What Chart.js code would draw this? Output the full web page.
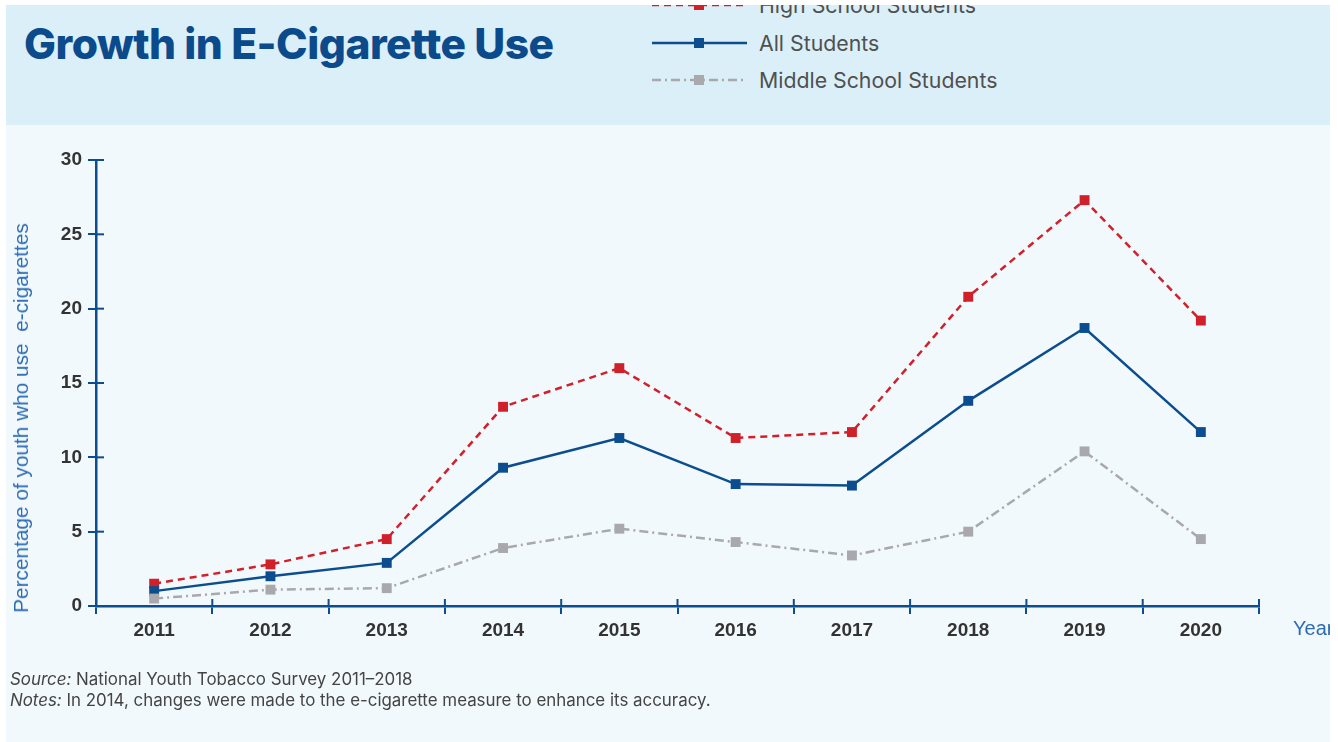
<!DOCTYPE html>
<html>
<head>
<meta charset="utf-8">
<script src="https://cdn.jsdelivr.net/npm/chart.js@4.4.1/dist/chart.umd.min.js"></script>
<style>
  html, body { margin: 0; padding: 0; background: #ffffff; }
  #page { position: relative; width: 1338px; height: 742px; overflow: hidden; clip-path: inset(5px 8px 0px 6px); background: #f2f9fd; }
  #header { position: absolute; left: 0; top: 0; width: 1338px; height: 125px; background: #daeff8; }
  #title { position: absolute; left: 24px; top: 21px; font-family: Inter, "Liberation Sans", sans-serif; font-weight: 800; font-size: 42.5px; line-height: 46px; color: #0b4a8b; letter-spacing: -0.5px; white-space: nowrap; }
  .leg { position: absolute; left: 652px; height: 20px; display: flex; align-items: center; }
  .leg svg { display: block; }
  .leg span { margin-left: 12px; font-family: Inter, "Liberation Sans", sans-serif; font-size: 21.3px; color: #505050; white-space: nowrap; }
  #chart { position: absolute; left: 0; top: 0; }
  #ytitle { position: absolute; left: 21px; top: 418px; transform: translate(-50%, -50%) rotate(-90deg); font-family: "Liberation Sans", sans-serif; font-size: 20.8px; color: #2d6cb3; white-space: pre; }
  #xtitle { position: absolute; left: 1293px; top: 617px; font-family: "Liberation Sans", sans-serif; font-size: 20px; color: #2d6cb3; white-space: nowrap; }
  .note { position: absolute; left: 10px; font-family: Inter, "Liberation Sans", sans-serif; font-size: 16.9px; line-height: 20px; color: #444444; white-space: nowrap; }
</style>
</head>
<body>
<div id="page">
  <div id="header"></div>
  <div id="title">Growth in E-Cigarette Use</div>
  <div class="leg" style="top:-5px">
    <svg width="95" height="20"><line x1="0" y1="10" x2="95" y2="10" stroke="#d0202a" stroke-width="2.5" stroke-dasharray="7,5"/><rect x="42" y="5" width="10" height="10" fill="#d0202a"/></svg>
    <span>High School Students</span>
  </div>
  <div class="leg" style="top:33px">
    <svg width="95" height="20"><line x1="0" y1="10" x2="95" y2="10" stroke="#0b4d8e" stroke-width="2.5"/><rect x="42" y="5" width="10" height="10" fill="#0b4d8e"/></svg>
    <span>All Students</span>
  </div>
  <div class="leg" style="top:70px">
    <svg width="95" height="20"><line x1="0" y1="10" x2="95" y2="10" stroke="#a9a9ad" stroke-width="2.5" stroke-dasharray="9,4,2,4"/><rect x="42" y="5" width="10" height="10" fill="#a9a9ad"/></svg>
    <span>Middle School Students</span>
  </div>
  <canvas id="chart" width="1338" height="742"></canvas>
  <div id="ytitle">Percentage of youth who use  e-cigarettes</div>
  <div id="xtitle">Year</div>
  <div class="note" style="top:669px"><i>Source:</i> National Youth Tobacco Survey 2011–2018</div>
  <div class="note" style="top:690px"><i>Notes:</i> In 2014, changes were made to the e-cigarette measure to enhance its accuracy.</div>
</div>
<script>
const years = ["2011","2012","2013","2014","2015","2016","2017","2018","2019","2020"];
const highSchool = [1.5, 2.8, 4.5, 13.4, 16.0, 11.3, 11.7, 20.8, 27.3, 19.2];
const allStudents = [1.0, 2.0, 2.9, 9.3, 11.3, 8.2, 8.1, 13.8, 18.7, 11.7];
const middleSchool = [0.5, 1.1, 1.2, 3.9, 5.2, 4.3, 3.4, 5.0, 10.4, 4.5];
const yTicks = [0, 5, 10, 15, 20, 25, 30];

const AXIS = '#0b4d8e';
const TICKFONT = { family: '"Liberation Sans", Arial, sans-serif', size: 19, weight: 'bold' };
const innerTicks = {
  id: 'innerTicks',
  afterDraw(chart) {
    const ctx = chart.ctx;
    const x = chart.scales.x, y = chart.scales.y;
    ctx.save();
    ctx.strokeStyle = AXIS;
    ctx.lineWidth = 2;
    y.ticks.forEach((t, i) => {
      const py = y.getPixelForTick(i);
      ctx.beginPath(); ctx.moveTo(y.right, py); ctx.lineTo(y.right + 8, py); ctx.stroke();
    });
    for (let i = 0; i <= years.length; i++) {
      const px = x.getPixelForValue(i - 0.5);
      ctx.beginPath(); ctx.moveTo(px, x.top); ctx.lineTo(px, x.top - 7); ctx.stroke();
    }
    ctx.restore();
  }
};

new Chart(document.getElementById('chart'), {
  type: 'line',
  data: {
    labels: years,
    datasets: [
      { label: 'High School Students', data: highSchool, borderColor: '#d0202a', backgroundColor: '#d0202a', borderWidth: 2.5, borderDash: [7,5], pointStyle: 'rect', pointRadius: 7, pointBorderWidth: 0, pointBackgroundColor: '#d0202a', tension: 0, order: 2 },
      { label: 'All Students', data: allStudents, borderColor: '#0b4d8e', backgroundColor: '#0b4d8e', borderWidth: 2.5, pointStyle: 'rect', pointRadius: 7, pointBorderWidth: 0, pointBackgroundColor: '#0b4d8e', tension: 0, order: 1 },
      { label: 'Middle School Students', data: middleSchool, borderColor: '#a9a9ad', backgroundColor: '#a9a9ad', borderWidth: 2.5, borderDash: [9,4,2,4], pointStyle: 'rect', pointRadius: 7, pointBorderWidth: 0, pointBackgroundColor: '#a9a9ad', tension: 0, order: 0 }
    ]
  },
  options: {
    responsive: false,
    animation: false,
    layout: { padding: { left: 0, right: 79, top: 160, bottom: 0 } },
    plugins: { legend: { display: false }, tooltip: { enabled: false } },
    scales: {
      x: {
        offset: true,
        grid: { display: true, offset: true, drawOnChartArea: false, drawTicks: true, tickLength: 8, color: AXIS, lineWidth: 2 },
        border: { display: true, color: AXIS, width: 2.5 },
        ticks: { color: '#333333', font: TICKFONT, padding: 5, maxRotation: 0 },
        afterFit(s) { s.height = 136; }
      },
      y: {
        min: 0, max: 30,
        afterBuildTicks(s) { s.ticks = yTicks.map(v => ({ value: v })); },
        grid: { display: true, drawOnChartArea: false, drawTicks: true, tickLength: 8, color: AXIS, lineWidth: 2 },
        border: { display: true, color: AXIS, width: 2.5 },
        ticks: { color: '#333333', font: TICKFONT, padding: 6 },
        afterFit(s) { s.width = 96; }
      }
    }
  },
  plugins: [innerTicks]
});
</script>
</body>
</html>
